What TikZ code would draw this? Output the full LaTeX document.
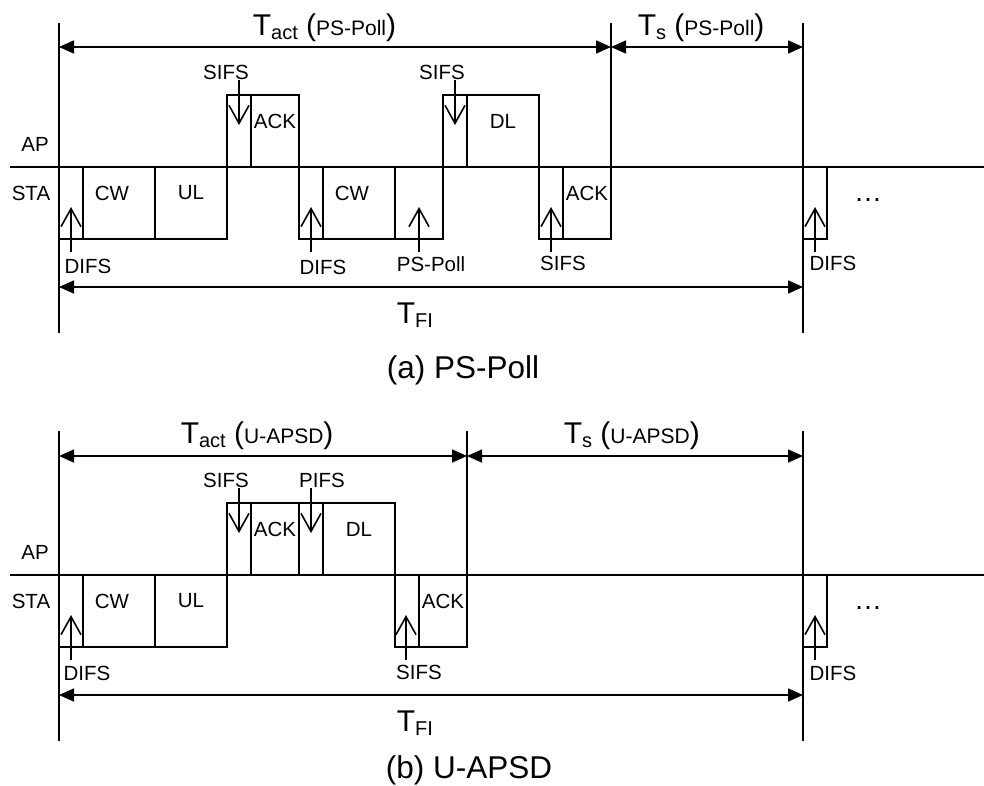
\documentclass[tikz,border=0pt]{standalone}
\usepackage{fontspec}
\setmainfont{Liberation Sans}
\usetikzlibrary{arrows.meta}
\newcommand\myfs[1]{\fontsize{#1}{#1}\selectfont}
\newcommand\mytlab[2]{{\myfs{30}T}\raisebox{-4pt}{\myfs{20}#1}{\myfs{30}\ (}{\myfs{21}#2}{\myfs{30})}}
\newcommand\mytfi{{\myfs{30}T}\raisebox{-4pt}{\myfs{20}FI}}
\begin{document}
\begin{tikzpicture}[x=1pt,y=-1pt,line width=1.6pt,
  seg/.style={draw,inner sep=0pt,outer sep=0pt,minimum height=72pt},
  lbl/.style={font=\myfs{20.5},inner sep=0pt},
  dim/.style={arrows={Triangle[length=15pt,width=13pt]-Triangle[length=15pt,width=13pt]}},
  ptr/.style={arrows={-Straight Barb[length=18pt,width=20pt]}},
  ttl/.style={anchor=base west,inner sep=0pt},
  captxt/.style={anchor=base west,inner sep=0pt,font=\myfs{31.5}}]
\useasboundingbox (0,0) rectangle (984,785);

% ================= panel (a) =================
\coordinate (a-apL) at (10,167); \coordinate (a-apR) at (984,167);
\draw (a-apL) -- (a-apR);
\coordinate (a-v1t) at (59,23);  \coordinate (a-v1b) at (59,333);
\coordinate (a-v2t) at (611,23); \coordinate (a-v2b) at (611,167);
\coordinate (a-v3t) at (803,23); \coordinate (a-v3b) at (803,333);
\draw (a-v1t) -- (a-v1b);
\draw (a-v2t) -- (a-v2b);
\draw (a-v3t) -- (a-v3b);
\coordinate (a-t1) at (59,47); \coordinate (a-t2) at (611,47); \coordinate (a-t3) at (803,47);
\draw[dim] (a-t1) -- (a-t2);
\draw[dim] (a-t2) -- (a-t3);
\coordinate (a-f1) at (59,287); \coordinate (a-f2) at (803,287);
\draw[dim] (a-f1) -- (a-f2);

\node[ttl] (a-tact) at (252,35) {\mytlab{act}{PS-Poll}};
\node[ttl] (a-ts) at (637,35) {\mytlab{s}{PS-Poll}};
\node[ttl] (a-tfi) at (396,323) {\mytfi};
\node[captxt] (a-cap) at (386,378) {(a) PS-Poll};

\node[lbl] (a-ap) at (35,144) {AP};
\node[lbl] (a-sta) at (31,193) {STA};

% boxes
\node[seg,minimum width=24pt] (a-difs1) at (71,203) {};
\node[seg,minimum width=72pt] (a-cw1) at (119,203) {};
\node[seg,minimum width=72pt] (a-ul) at (191,203) {};
\node[seg,minimum width=24pt] (a-sifs1) at (239,131) {};
\node[seg,minimum width=48pt] (a-ack1) at (275,131) {};
\node[seg,minimum width=24pt] (a-difs2) at (311,203) {};
\node[seg,minimum width=72pt] (a-cw2) at (359,203) {};
\node[seg,minimum width=48pt] (a-psp) at (419,203) {};
\node[seg,minimum width=24pt] (a-sifs2) at (455,131) {};
\node[seg,minimum width=72pt] (a-dl) at (503,131) {};
\node[seg,minimum width=24pt] (a-sifs3) at (551,203) {};
\node[seg,minimum width=48pt] (a-ack2) at (587,203) {};
\node[seg,minimum width=24pt] (a-difs3) at (815,203) {};

\node[lbl] (a-cw1l) at (112,193) {CW};
\node[lbl] (a-ull) at (191,193) {UL};
\node[lbl] (a-ack1l) at (275,121) {ACK};
\node[lbl] (a-cw2l) at (352,193) {CW};
\node[lbl] (a-dll) at (503,121) {DL};
\node[lbl] (a-ack2l) at (587,193) {ACK};
\node[font=\myfs{28},inner sep=0pt] (a-more) at (868,200) {…};

% pointer arrows
\coordinate (a-p1s) at (71,252);  \coordinate (a-p1e) at (71,207);  \draw[ptr] (a-p1s) -- (a-p1e);
\coordinate (a-p2s) at (239,80);  \coordinate (a-p2e) at (239,125); \draw[ptr] (a-p2s) -- (a-p2e);
\coordinate (a-p3s) at (311,252); \coordinate (a-p3e) at (311,207); \draw[ptr] (a-p3s) -- (a-p3e);
\coordinate (a-p4s) at (419,252); \coordinate (a-p4e) at (419,207); \draw[ptr] (a-p4s) -- (a-p4e);
\coordinate (a-p5s) at (455,80);  \coordinate (a-p5e) at (455,125); \draw[ptr] (a-p5s) -- (a-p5e);
\coordinate (a-p6s) at (551,252); \coordinate (a-p6e) at (551,207); \draw[ptr] (a-p6s) -- (a-p6e);
\coordinate (a-p7s) at (815,252); \coordinate (a-p7e) at (815,207); \draw[ptr] (a-p7s) -- (a-p7e);

\node[lbl] (a-l1) at (88,266) {DIFS};
\node[lbl] (a-l2) at (226,72) {SIFS};
\node[lbl] (a-l3) at (323,267) {DIFS};
\node[lbl] (a-l4) at (431,264) {PS-Poll};
\node[lbl] (a-l5) at (442,72) {SIFS};
\node[lbl] (a-l6) at (563,263) {SIFS};
\node[lbl] (a-l7) at (833,263) {DIFS};

% ================= panel (b) =================
\begin{scope}[shift={(0,408)}]
\coordinate (b-apL) at (10,167); \coordinate (b-apR) at (984,167);
\draw (b-apL) -- (b-apR);
\coordinate (b-v1t) at (59,23);  \coordinate (b-v1b) at (59,333);
\coordinate (b-v2t) at (467,23); \coordinate (b-v2b) at (467,167);
\coordinate (b-v3t) at (803,23); \coordinate (b-v3b) at (803,333);
\draw (b-v1t) -- (b-v1b);
\draw (b-v2t) -- (b-v2b);
\draw (b-v3t) -- (b-v3b);
\coordinate (b-t1) at (59,48); \coordinate (b-t2) at (467,48); \coordinate (b-t3) at (803,48);
\draw[dim] (b-t1) -- (b-t2);
\draw[dim] (b-t2) -- (b-t3);
\coordinate (b-f1) at (59,287); \coordinate (b-f2) at (803,287);
\draw[dim] (b-f1) -- (b-f2);

\node[ttl] (b-tact) at (180,35) {\mytlab{act}{U-APSD}};
\node[ttl] (b-ts) at (563,35) {\mytlab{s}{U-APSD}};
\node[ttl] (b-tfi) at (396,323) {\mytfi};
\node[captxt] (b-cap) at (385,370) {(b) U-APSD};

\node[lbl] (b-ap) at (35,144) {AP};
\node[lbl] (b-sta) at (31,193) {STA};

\node[seg,minimum width=24pt] (b-difs1) at (71,203) {};
\node[seg,minimum width=72pt] (b-cw) at (119,203) {};
\node[seg,minimum width=72pt] (b-ul) at (191,203) {};
\node[seg,minimum width=24pt] (b-sifs1) at (239,131) {};
\node[seg,minimum width=48pt] (b-ack1) at (275,131) {};
\node[seg,minimum width=24pt] (b-pifs) at (311,131) {};
\node[seg,minimum width=72pt] (b-dl) at (359,131) {};
\node[seg,minimum width=24pt] (b-sifs2) at (407,203) {};
\node[seg,minimum width=48pt] (b-ack2) at (443,203) {};
\node[seg,minimum width=24pt] (b-difs2) at (815,203) {};

\node[lbl] (b-cwl) at (112,193) {CW};
\node[lbl] (b-ull) at (191,193) {UL};
\node[lbl] (b-ack1l) at (275,121) {ACK};
\node[lbl] (b-dll) at (359,121) {DL};
\node[lbl] (b-ack2l) at (443,193) {ACK};
\node[font=\myfs{28},inner sep=0pt] (b-more) at (868,200) {…};

\coordinate (b-p1s) at (71,252);  \coordinate (b-p1e) at (71,207);  \draw[ptr] (b-p1s) -- (b-p1e);
\coordinate (b-p2s) at (239,80);  \coordinate (b-p2e) at (239,125); \draw[ptr] (b-p2s) -- (b-p2e);
\coordinate (b-p3s) at (311,80);  \coordinate (b-p3e) at (311,125); \draw[ptr] (b-p3s) -- (b-p3e);
\coordinate (b-p4s) at (406,252); \coordinate (b-p4e) at (406,207); \draw[ptr] (b-p4s) -- (b-p4e);
\coordinate (b-p5s) at (815,252); \coordinate (b-p5e) at (815,207); \draw[ptr] (b-p5s) -- (b-p5e);

\node[lbl] (b-l1) at (87,265) {DIFS};
\node[lbl] (b-l2) at (226,72) {SIFS};
\node[lbl] (b-l3) at (322,72) {PIFS};
\node[lbl] (b-l4) at (419,264) {SIFS};
\node[lbl] (b-l5) at (833,265) {DIFS};
\end{scope}
\end{tikzpicture}
\end{document}
